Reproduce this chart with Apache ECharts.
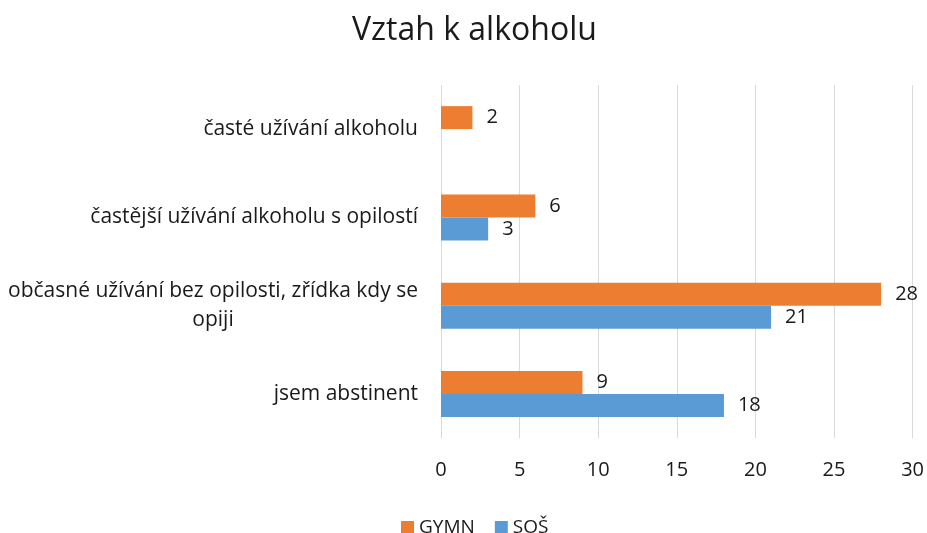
<!DOCTYPE html>
<html><head><meta charset="utf-8">
<script src="https://cdn.jsdelivr.net/npm/echarts@6/dist/echarts.min.js"></script>
<style>html,body{margin:0;padding:0;background:#fff}#c{width:927px;height:533px}</style>
</head><body><div id="c"></div>
<script>
var categories = ['jsem abstinent', 'občasné užívání bez opilosti, zřídka kdy se\nopiji', 'častější užívání alkoholu s opilostí', 'časté užívání alkoholu'];
var seriesNames = ['GYMN', 'SOŠ'];
var gymn = [9, 28, 6, 2];
var sos = [18, 21, 3, null];
var xTicks = [0, 5, 10, 15, 20, 25, 30];

var FONT = '"Open Sans", sans-serif';
var TXT = '#1a1a1a';
var CAT_SIZE = 21;
var ctx = document.createElement('canvas').getContext('2d');
ctx.font = CAT_SIZE + 'px "Open Sans"';
function catLabel(v) {
  if (v.indexOf('\n') < 0) return v;
  var lines = v.split('\n');
  return lines.map(function (l) { return '{c|' + l + '}'; }).join('\n');
}
var maxW = 0;
categories.forEach(function (c) { c.split('\n').forEach(function (l) { maxW = Math.max(maxW, ctx.measureText(l).width); }); });
var multiW = 0;
categories.forEach(function (c) { if (c.indexOf('\n') >= 0) c.split('\n').forEach(function (l) { multiW = Math.max(multiW, Math.ceil(ctx.measureText(l).width)); }); });

var chart = echarts.init(document.getElementById('c'));
var lbl = {show: true, position: 'right', distance: 14, color: TXT, fontSize: 20, fontFamily: FONT};
chart.setOption({
  animation: false,
  title: {text: 'Vztah k alkoholu', left: 347, top: 10, textStyle: {fontFamily: FONT, fontSize: 32, fontWeight: 'normal', color: TXT}},
  legend: {data: seriesNames, top: 513, left: 396, itemWidth: 13, itemHeight: 13, itemGap: 20, icon: 'rect',
    textStyle: {fontFamily: FONT, fontSize: 19, color: TXT}},
  grid: {left: 441, right: 14, top: 85, bottom: 95, containLabel: false},
  xAxis: {type: 'value', min: xTicks[0], max: xTicks[xTicks.length - 1], interval: 5,
    axisLine: {show: false}, axisTick: {show: false},
    splitLine: {lineStyle: {color: '#d9d9d9', width: 1}},
    axisLabel: {fontFamily: FONT, fontSize: 20, color: TXT, margin: 22}},
  yAxis: {type: 'category', data: categories, axisLine: {show: false}, axisTick: {show: false},
    axisLabel: {fontFamily: FONT, fontSize: CAT_SIZE, color: TXT, margin: 23, lineHeight: 29,
      formatter: catLabel,
      rich: {c: {fontFamily: FONT, fontSize: CAT_SIZE, color: TXT, lineHeight: 29, width: multiW, align: 'center'}}}},
  series: [
    {name: 'GYMN', type: 'bar', data: gymn, barWidth: 23, barGap: '0%', itemStyle: {color: '#ed7d31'}, label: lbl},
    {name: 'SOŠ', type: 'bar', data: sos, barWidth: 23, barGap: '0%', itemStyle: {color: '#5b9bd5'}, label: lbl}
  ]
});
</script></body></html>
